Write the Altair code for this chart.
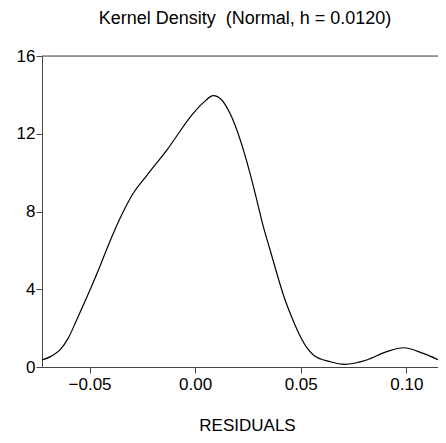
import altair as alt
import pandas as pd

residuals = [-0.0725, -0.068, -0.064, -0.060, -0.0561, -0.0498, -0.045, -0.0419, -0.034, -0.0293, -0.0229,
             -0.0134, -0.0009, 0.0039, 0.0086, 0.0125, 0.0165, 0.026, 0.0292, 0.0323, 0.0355,
             0.0426, 0.046, 0.0497, 0.053, 0.056, 0.0639, 0.071, 0.0812, 0.0907, 0.0986, 0.108, 0.115]
density = [0.36, 0.56, 0.88, 1.5, 2.42, 3.96, 5.2, 6.05, 8.0, 8.94, 9.85,
           11.16, 13.05, 13.6, 13.96, 13.75, 13.05, 9.96, 8.59, 7.22, 6.02,
           3.45, 2.5, 1.6, 0.98, 0.62, 0.27, 0.14, 0.36, 0.79, 0.99, 0.70, 0.38]
x_ticks = [-0.05, 0.0, 0.05, 0.10]
y_ticks = [0, 4, 8, 12, 16]
top_value = [16]

df = pd.DataFrame({"RESIDUALS": residuals, "density": density})
top_df = pd.DataFrame({"y": top_value})

FONT = "Liberation Sans"

xscale = alt.Scale(domain=[-0.0725, 0.115], nice=False, zero=False)
yscale = alt.Scale(domain=[0, 16], nice=False)

curve = alt.Chart(df).mark_line(color="black", strokeWidth=1.2, interpolate="monotone", clip=True).encode(
    x=alt.X("RESIDUALS:Q", scale=xscale,
            axis=alt.Axis(values=x_ticks, format=".2f", title="RESIDUALS", grid=False,
                          tickSize=6, labelPadding=3, titlePadding=25,
                          titleX=205, titleAlign="center",
                          domainColor="#444", tickColor="#444",
                          labelFont=FONT, labelFontSize=17, labelColor="black",
                          titleFont=FONT, titleFontSize=17, titleFontWeight="normal",
                          titleColor="black")),
    y=alt.Y("density:Q", scale=yscale,
            axis=alt.Axis(values=y_ticks, title=None, grid=False,
                          tickSize=6, labelPadding=1,
                          domainColor="#444", tickColor="#444",
                          labelFont=FONT, labelFontSize=17, labelColor="black")),
)

top = alt.Chart(top_df).mark_rule(color="#444", strokeWidth=1).encode(
    y=alt.Y("y:Q", scale=yscale)
)

chart = alt.layer(curve, top).properties(
    width=396,
    height=311,
    title=alt.TitleParams("Kernel Density\u00a0 (Normal, h = 0.0120)", font=FONT, fontSize=18,
                          fontWeight="normal", color="black", offset=19, anchor="middle", dx=5),
    autosize=alt.AutoSizeParams(type="none"),
    padding={"left": 34, "top": 48, "right": 0, "bottom": 66},
).configure_view(stroke=None).configure(background="white")

chart.save("out.html", embed_options={"renderer": "svg", "actions": False})
